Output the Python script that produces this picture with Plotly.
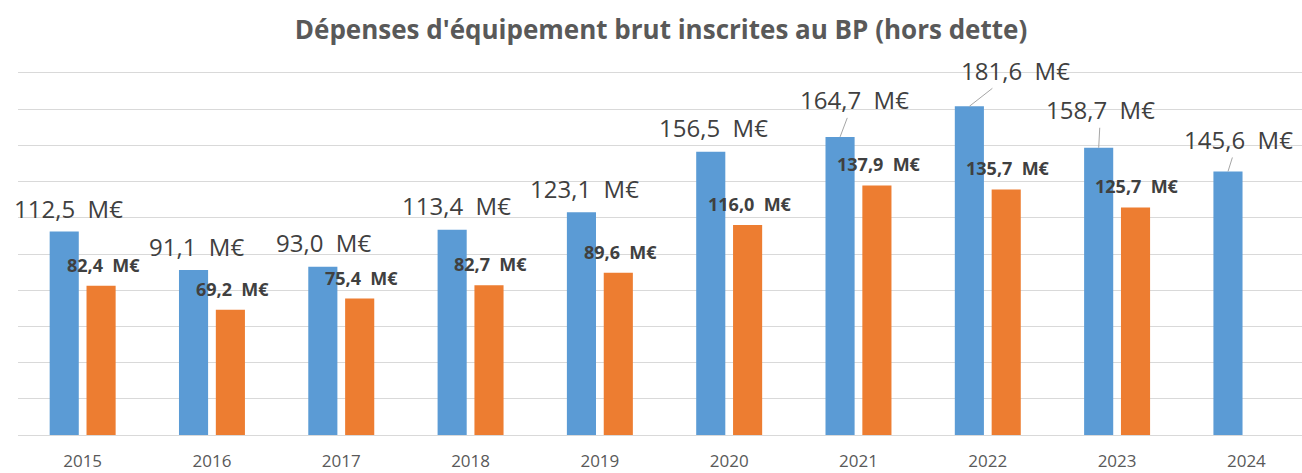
import plotly.graph_objects as go

# Investment spending per year (M€)
years = ["2015", "2016", "2017", "2018", "2019", "2020", "2021", "2022", "2023", "2024"]
budget_bp = [112.5, 91.1, 93.0, 113.4, 123.1, 156.5, 164.7, 181.6, 158.7, 145.6]
realise = [82.4, 69.2, 75.4, 82.7, 89.6, 116.0, 137.9, 135.7, 125.7, None]

# label offsets (px) for the blue series: (dx, dy, leader line)
blue_label_offsets = [
    (4, 23, False), (3, 24, False), (1, 24, False), (4, 24, False), (3, 24, False),
    (3, 24, False), (14, 37, True), (46, 36, True), (2, 38, True), (10, 32, True),
]

BLUE = "#5B9BD5"
ORANGE = "#ED7D31"
FONT = "Open Sans"


def fmt(v):
    return f"{v:.1f}".replace(".", ",") + "\u00a0 M€"


fig = go.Figure()
fig.add_trace(go.Bar(x=years, y=budget_bp, marker=dict(color=BLUE, line=dict(width=0)),
                     hoverinfo="skip", showlegend=False))
fig.add_trace(go.Bar(x=years, y=realise, marker=dict(color=ORANGE, line=dict(width=0)),
                     hoverinfo="skip", showlegend=False))

BAR_SHIFT = 18.4  # half distance between the two bars of a group, px

for i, (v, (dx, dy, leader)) in enumerate(zip(budget_bp, blue_label_offsets)):
    if leader:
        fig.add_annotation(
            x=i, y=v, xref="x", yref="y", xshift=-BAR_SHIFT,
            text=fmt(v), showarrow=True, ax=dx, ay=-dy,
            arrowhead=0, arrowwidth=1, arrowcolor="#A6A6A6", standoff=0,
            font=dict(family=FONT, size=24, color="#404040"),
        )
    else:
        fig.add_annotation(
            x=i, y=v, xref="x", yref="y", xshift=-BAR_SHIFT + dx, yshift=dy,
            yanchor="middle", xanchor="center",
            text=fmt(v), showarrow=False,
            font=dict(family=FONT, size=24, color="#404040"),
        )

for i, v in enumerate(realise):
    if v is None:
        continue
    fig.add_annotation(
        x=i, y=v, xref="x", yref="y", xshift=BAR_SHIFT + 2, yshift=21,
        yanchor="middle", xanchor="center",
        text="<b>" + fmt(v) + "</b>", showarrow=False,
        font=dict(family=FONT, size=18, color="#404040"),
    )

fig.update_layout(
    width=1302, height=473,
    margin=dict(l=18, r=0, t=73, b=38),
    paper_bgcolor="white", plot_bgcolor="white",
    barmode="group", bargap=0.43, bargroupgap=0.21,
    title=dict(text="<b>Dépenses d'équipement brut inscrites au BP (hors dette)</b>",
               x=661 / 1302, xref="container", xanchor="center",
               y=1 - 30 / 473, yref="container", yanchor="middle",
               font=dict(family=FONT, size=26, color="#595959")),
    xaxis=dict(type="category", range=[-0.5, 9.43], showgrid=False, zeroline=False,
               showline=True, linecolor="#D9D9D9", linewidth=1.3, mirror=True,
               ticks="", ticklabelstandoff=10, automargin=False,
               tickfont=dict(family=FONT, size=17, color="#595959")),
    yaxis=dict(range=[0, 200], dtick=20, showgrid=True, gridcolor="#D9D9D9", gridwidth=1.3,
               zeroline=False, showline=False, showticklabels=False, ticks="",
               automargin=False),
)

fig.write_html("out.html")
